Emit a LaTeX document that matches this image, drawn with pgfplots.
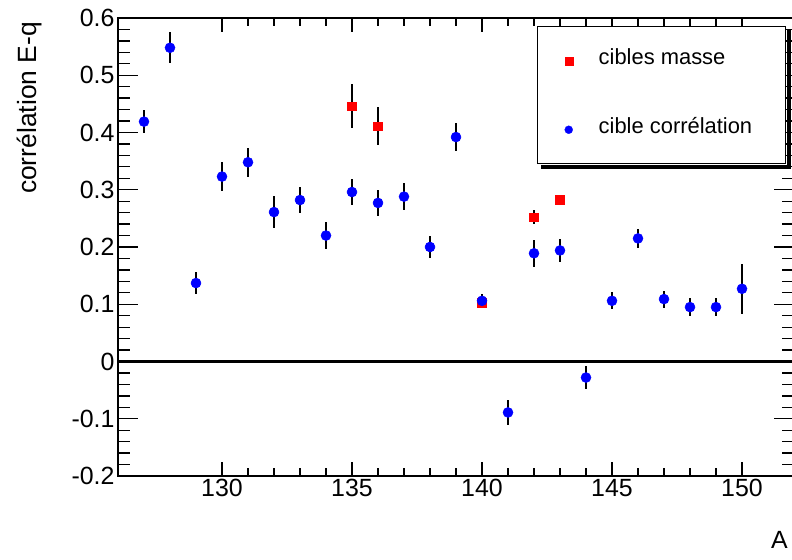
\documentclass[border=0pt]{standalone}
\usepackage{pgfplots}
\pgfplotsset{compat=1.18}
\usepackage{pgfplotstable}
\usepackage{fontspec}
\setmainfont{Liberation Sans}

\pgfplotstableread{
x y e
135 0.446 0.039
136 0.411 0.033
140 0.103 0.010
142 0.252 0.012
143 0.283 0.008
}\masse

\pgfplotstableread{
x y e
127 0.419 0.020
128 0.548 0.027
129 0.137 0.019
130 0.323 0.025
131 0.348 0.025
132 0.261 0.028
133 0.282 0.023
134 0.220 0.024
135 0.296 0.023
136 0.277 0.022
137 0.288 0.024
138 0.200 0.020
139 0.392 0.024
140 0.106 0.012
141 -0.089 0.022
142 0.189 0.024
143 0.194 0.020
144 -0.028 0.020
145 0.106 0.015
146 0.215 0.017
147 0.109 0.015
148 0.095 0.016
149 0.095 0.016
150 0.127 0.044
}\correl

\begin{document}
\begin{tikzpicture}
\begin{axis}[
  name=ax,
  scale only axis,
  width=676bp, height=458bp,
  xmin=126, xmax=152, ymin=-0.2, ymax=0.6,
  xtick={130,135,140,145,150},
  ytick={-0.2,-0.1,0,0.1,0.2,0.3,0.4,0.5,0.6},
  yticklabels={-0.2,-0.1,0,0.1,0.2,0.3,0.4,0.5,0.6},
  minor x tick num=4, minor y tick num=4,
  tick align=inside,
  axis line style={line width=1.5bp},
  xtick style={black, line width=1.3bp, /pgfplots/major tick length=14bp, /pgfplots/minor tick length=8bp},
  ytick style={black, line width=1.3bp, /pgfplots/major tick length=20bp, /pgfplots/minor tick length=12bp},
  /pgf/number format/assume math mode=true,
  ticklabel style={font=\fontsize{25}{30}\selectfont},
  xlabel={A},
  ylabel={corrélation E-q},
  xlabel style={font=\fontsize{25}{30}\selectfont, at={(rel axis cs:1,0)}, anchor=north east, inner sep=0pt, yshift=-55bp, xshift=-6bp},
  ylabel style={font=\fontsize{26.5}{31}\selectfont, at={(rel axis cs:0,1)}, anchor=south east, inner sep=0pt, yshift=76bp, xshift=-4bp},
  legend cell align=left,
  legend image code/.code={\draw[#1] plot coordinates {(0bp,0bp)}; \path[draw=none, fill=none] (-8bp,-4bp) rectangle (8bp,4bp);},
  legend style={name=leg, at={(axis description cs:0.6198,1)}, anchor=north west, yshift=-8bp,
    draw=black, line width=1.5bp, fill=white,
    inner xsep=23bp, inner ysep=25bp, row sep=51bp, column sep=22bp,
    nodes={inner sep=0pt, text height=13bp, text depth=5bp, font=\fontsize{22}{26}\selectfont}},
]
\addlegendimage{only marks, mark=square*, mark size=4bp, mark options={draw=red, fill=red, line width=0.3bp}}
\addlegendentry{\makebox[164bp][l]{cibles masse}}
\addlegendimage{only marks, mark=*, mark size=4bp, mark options={draw=blue, fill=blue, line width=0.3bp}}
\addlegendentry{\makebox[164bp][l]{cible corrélation}}
\addplot[black, line width=2.6bp, forget plot] coordinates {(126,0) (152,0)};
\addplot[forget plot, only marks, mark=square*, mark size=4.3bp, red, mark options={draw=red, fill=red, line width=0.5bp},
  error bars/.cd, y dir=both, y explicit, error mark=none, error bar style={black, line width=1.8bp}]
  table[x=x, y=y, y error=e] {\masse};
\addplot[forget plot, only marks, mark=*, mark size=5bp, blue, mark options={draw=blue, fill=blue, line width=0.5bp},
  error bars/.cd, y dir=both, y explicit, error mark=none, error bar style={black, line width=1.8bp}]
  table[x=x, y=y, y error=e] {\correl};
\end{axis}
\fill[black] ([shift={(0.75bp,-4bp)}]leg.north east) rectangle ([shift={(4.75bp,-4.75bp)}]leg.south east);
\fill[black] ([shift={(4bp,-0.75bp)}]leg.south west) rectangle ([shift={(4.75bp,-4.75bp)}]leg.south east);
\pgfresetboundingbox
\path[use as bounding box] ([shift={(-118bp,-84bp)}]ax.south west) rectangle ([shift={(-2bp,18bp)}]ax.north east);
\end{tikzpicture}
\end{document}
